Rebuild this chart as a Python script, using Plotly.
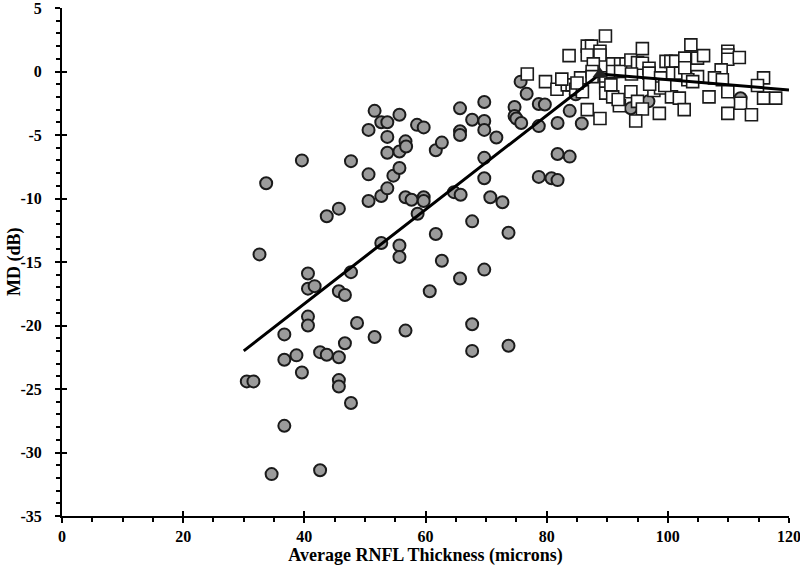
import plotly.graph_objects as go

# Glaucoma eyes (gray circles): RNFL thickness, MD
glaucoma_x = [30.5, 31.6, 32.6, 33.7, 34.6, 36.7, 36.7, 36.7, 38.7, 39.6, 39.6, 40.6, 40.6, 41.7, 40.6,
              40.6, 42.6, 42.6, 43.7, 43.7, 45.7, 45.7, 45.7, 45.7, 45.7, 46.7, 46.7, 47.7, 47.7, 47.7,
              48.7, 50.6, 50.6, 50.6, 51.6, 51.6, 52.7, 52.7, 52.7, 53.7, 53.7, 53.7, 53.7, 54.7, 55.7,
              55.7, 55.7, 55.7, 55.7, 56.7, 56.8, 56.7, 56.7, 57.7, 58.6, 58.7, 59.7, 59.7, 59.7, 60.7,
              61.7, 61.7, 62.7, 62.7, 64.7, 65.8, 65.7, 65.7, 65.7, 65.7, 67.7, 67.7, 67.7, 67.7, 69.7,
              69.7, 69.7, 69.7, 69.7, 69.7, 70.7, 71.7, 72.7, 73.7, 73.7, 74.7, 74.7, 75.0, 75.8, 75.7,
              76.7, 78.7, 79.7, 78.7, 78.7, 80.8, 81.8, 81.8, 81.8, 83.8, 83.8, 84.8, 85.8, 93.9, 96.8,
              112.0]
glaucoma_md = [-24.4, -24.4, -14.4, -8.8, -31.7, -27.9, -20.7, -22.7, -22.35, -23.7, -7.0, -15.9, -17.1, -16.9, -19.3,
               -20.0, -22.1, -31.4, -22.3, -11.4, -10.8, -17.3, -22.5, -24.3, -24.8, -17.6, -21.4, -15.8, -7.06, -26.1,
               -19.8, -4.6, -8.1, -10.2, -3.1, -20.9, -4.0, -9.8, -13.5, -4.0, -5.15, -6.4, -9.2, -8.2, -3.4,
               -6.3, -7.6, -13.7, -14.6, -5.5, -5.9, -9.9, -20.4, -10.1, -4.2, -11.2, -4.4, -9.9, -10.2, -17.3,
               -6.2, -12.8, -5.6, -14.9, -9.5, -9.7, -2.9, -4.7, -5.0, -16.3, -3.8, -11.8, -19.9, -22.0, -2.4,
               -3.9, -4.6, -6.8, -8.4, -15.6, -9.9, -5.2, -10.3, -12.7, -21.6, -2.8, -3.5, -3.7, -4.05, -0.8,
               -1.75, -2.56, -2.6, -4.3, -8.3, -8.4, -8.55, -4.05, -6.5, -6.7, -3.1, -1.8, -4.1, -2.9, -2.35,
               -2.1]

# Normal eyes (open squares): RNFL thickness, MD
normal_x = [76.8, 79.8, 81.7, 83.4, 84.2, 85.6, 84.8, 85.9, 83.7, 86.7, 87.4, 88.8, 86.7, 88.8, 87.7,
            87.5, 87.5, 86.7, 88.8, 89.7, 89.75, 89.75, 89.75, 89.75, 90.9, 92.2, 93.1, 90.9, 92.2, 93.9,
            95.0, 95.8, 95.8, 96.9, 96.9, 98.8, 99.7, 100.5, 101.3, 100.8, 102.1, 90.9, 92.0, 93.9, 95.0,
            95.8, 94.7, 97.7, 98.8, 98.6, 100.6, 101.9, 102.7, 103.8, 102.8, 104.9, 105.9, 109.9, 109.9, 109.9,
            111.8, 102.8, 108.8, 104.9, 103.3, 104.1, 107.7, 109.0, 115.8, 114.8, 109.9, 106.8, 112.0, 115.8, 117.8,
            109.9, 113.8, 90.6, 94.0, 82.5, 85.0, 91.8, 97.0, 99.5]
normal_md = [-0.2, -0.8, -1.4, -1.05, -1.05, -0.5, -1.4, -1.6, 1.25, 2.0, 2.0, 1.6, 1.3, 1.3, 0.6,
             0.0, -0.4, -3.0, -3.7, 2.8, -0.5, -0.9, -1.3, -1.7, 0.6, 0.6, 0.6, 0.0, 0.0, 0.9,
             0.7, 0.65, 1.8, 0.26, -0.13, -0.5, 0.8, 0.8, 0.8, -0.13, -0.13, -2.0, -2.7, -1.6, -2.35,
             -2.95, -3.9, -1.5, -1.3, -3.3, -2.0, -2.1, -3.0, 2.1, 1.05, 1.05, 1.25, 1.6, 1.3, 0.97,
             1.1, 0.3, 0.13, -0.4, -0.65, -0.8, -0.5, -0.65, -0.5, -1.1, -1.6, -2.0, -2.5, -2.1, -2.1,
             -3.3, -3.4, -1.05, -0.2, -0.6, -0.9, -2.2, -1.0, -1.1]

# Broken-stick regression line and breakpoint
fit_x = [30.0, 88.8, 120.0]
fit_md = [-22.0, -0.2, -1.45]
break_x = [88.8]
break_md = [-0.2]

x_ticks = [0, 20, 40, 60, 80, 100, 120]
y_ticks = [5, 0, -5, -10, -15, -20, -25, -30, -35]

serif = "Liberation Serif"

fig = go.Figure()
fig.add_trace(go.Scatter(x=glaucoma_x, y=glaucoma_md, mode="markers",
                         marker=dict(symbol="circle", size=12, color="#9b9b9b",
                                     line=dict(color="#1a1a1a", width=2)),
                         showlegend=False, cliponaxis=False))
fig.add_trace(go.Scatter(x=normal_x, y=normal_md, mode="markers",
                         marker=dict(symbol="square", size=12, color="white",
                                     line=dict(color="#1a1a1a", width=1.6)),
                         showlegend=False, cliponaxis=False))
fig.add_trace(go.Scatter(x=fit_x, y=fit_md, mode="lines",
                         line=dict(color="black", width=3), showlegend=False))
fig.add_trace(go.Scatter(x=break_x, y=break_md, mode="markers",
                         marker=dict(symbol="triangle-up", size=13, color="#222222"),
                         showlegend=False))

axis_common = dict(showgrid=False, zeroline=False, showline=True, linecolor="black",
                   linewidth=2, ticks="outside", tickcolor="black", tickwidth=2, ticklen=5,
                   tickfont=dict(family=serif, size=16, color="black"),
                   title_font=dict(family=serif, size=18, color="black"),
                   automargin=False, ticklabeloverflow="allow")

fig.update_layout(
    width=800, height=573,
    margin=dict(l=62, r=11, t=8, b=57),
    paper_bgcolor="white", plot_bgcolor="white",
    xaxis=dict(range=[0, 120], tickvals=x_ticks,
               ticktext=[f"<b>{v}</b>" for v in x_ticks],
               minor=dict(dtick=5, ticks="outside", ticklen=4, tickwidth=2, tickcolor="black"),
               title=dict(text="<b>Average RNFL Thickness (microns)</b>", standoff=4),
               **axis_common),
    yaxis=dict(range=[-35, 5], tickvals=y_ticks,
               ticktext=[f"<b>{v}</b>" for v in y_ticks],
               minor=dict(dtick=1, ticks="outside", ticklen=4, tickwidth=2, tickcolor="black"),
               ticklabelstandoff=10,
               **axis_common),
    xaxis2=dict(overlaying="x", matches="x", side="bottom", anchor="y",
                tickvals=x_ticks, showticklabels=False, ticks="inside", ticklen=5,
                tickwidth=2, tickcolor="black", showgrid=False, zeroline=False, showline=False),
    yaxis2=dict(overlaying="y", matches="y", side="left", anchor="x",
                tickvals=y_ticks, showticklabels=False, ticks="inside", ticklen=5,
                tickwidth=2, tickcolor="black", showgrid=False, zeroline=False, showline=False),
    annotations=[dict(text="<b>MD (dB)</b>", xref="paper", yref="paper",
                      x=-0.066, y=0.5, xanchor="center", yanchor="middle",
                      textangle=-90, showarrow=False,
                      font=dict(family=serif, size=18, color="black"))],
)
# invisible trace to activate the overlay axes (inward half of major ticks)
fig.add_trace(go.Scatter(x=[None], y=[None], xaxis="x2", yaxis="y2", showlegend=False,
                         hoverinfo="skip"))

fig.write_html("out.html", config={"displayModeBar": False},
               post_script="document.body.style.margin='0';document.body.style.overflow='hidden';")
